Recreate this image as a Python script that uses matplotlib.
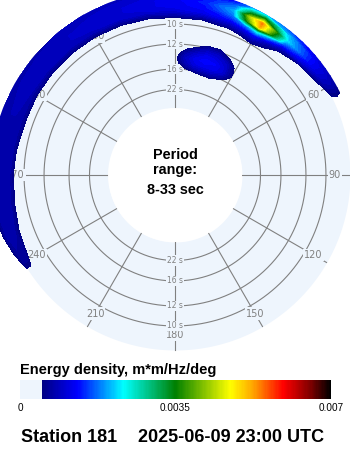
import numpy as np
import matplotlib
matplotlib.use('Agg')
import matplotlib.pyplot as plt
from matplotlib.colors import LinearSegmentedColormap, Normalize
import matplotlib.cm as cm

plt.rcParams['font.family'] = ['Liberation Sans', 'DejaVu Sans']

# --- DATA (energy density in units of 1e-4 m*m/Hz/deg) ---
# outer band (high frequency), directions in compass degrees (continued past 360)
band_dirs = [230, 240, 250, 260, 270, 280, 290, 300, 310, 320, 330, 340, 350,
             360, 370, 380, 385, 390, 400, 410, 420, 430]
band_freqs = [0.100, 0.104, 0.108, 0.112, 0.116, 0.120, 0.124, 0.128]
band_energy = [
    [0, 0, 0, 0, 0, 0, 0, 0, 0, 0, 0, 0, 0, 0, 0, 0, 2, 4, 0, 0, 0, 0],
    [0, 0, 0, 0, 1, 2, 2.5, 2, 2, 2, 2, 2, 2.5, 3, 3, 4.5, 6, 8, 2, 0, 0, 0],
    [0, 0, 1, 3, 4, 5, 6, 5.5, 5.5, 5.5, 5.5, 6, 6.5, 7.5, 8, 9, 11, 13, 4, 1, 0, 0],
    [0, 2, 4.5, 6.5, 7, 8, 8, 8, 8.5, 8.5, 9, 9.5, 10, 11, 12, 14, 18, 24, 9, 3, 0, 0],
    [0, 6, 7, 8, 8, 8, 8, 8.5, 9, 9, 9.5, 10, 11, 12, 13, 18, 36, 52, 16, 10, 3, 0],
    [0, 6, 8, 8, 8, 8, 8, 8.5, 9, 9, 9.5, 10, 11, 12, 14, 20, 42, 54, 22, 13, 7, 0],
    [0, 3, 7, 8, 8, 8, 8, 8, 8.5, 9, 9, 9.5, 10, 11, 13, 17, 30, 36, 20, 13, 8, 0],
    [0, 0, 3, 6, 7, 7, 7, 7, 7, 8, 8, 8.5, 9, 10, 11, 13, 18, 20, 15, 11, 7, 0],
]

# swell blob between 12 and 16 s
blob_dirs = [0, 5, 10, 15, 20, 25, 30, 35]
blob_freqs = [0.056, 0.060, 0.064, 0.068, 0.072, 0.076, 0.080, 0.084, 0.088]
blob_energy = [
    [0, 0, 0, 0, 0, 0, 0, 0],
    [0, 0, 3, 4.5, 5, 2, 0, 0],
    [0, 5, 8, 9, 9, 7, 3, 0],
    [3, 8, 11, 12, 12, 10, 4.5, 0],
    [3.5, 9, 12, 13, 12.5, 10, 4.5, 0],
    [2, 7.5, 10, 12, 11, 9, 3.5, 0],
    [0, 4, 7, 9.5, 9, 6, 0, 0],
    [0, 0, 3, 6, 6, 1.5, 0, 0],
    [0, 0, 0, 1, 1, 0, 0, 0],
]

ring_periods = [10, 12, 16, 22]
spoke_dirs = [0, 30, 60, 90, 120, 150, 180, 210, 240, 270, 300, 330]
spoke_labels = ['360', '30', '60', '90', '120', '150', '180', '210', '240', '270', '300', '330']
cbar_ticks = [0, 0.0035, 0.007]
cbar_ticklabels = ['0', '0.0035', '0.007']
period_range = 'Period\nrange:\n8-33 sec'
station = 'Station 181'
stamp = '2025-06-09 23:00 UTC'

# --- STYLE ---
disc_col = '#eef5fd'
grid_col = '#808080'
f_min, f_disc, f_max, f_origin = 0.03, 0.12, 0.128, -0.0258
px_per_f = 1200.0
vmax = 0.007
thresh = 0.00047

cmap = LinearSegmentedColormap.from_list('cdip', [
    (0.0, disc_col), (0.0677, disc_col), (0.0678, '#000080'), (0.184, '#0000ff'),
    (0.332, '#00ffff'), (0.5, '#008000'), (0.677, '#ffff00'), (0.75, '#ffa500'),
    (0.848, '#ff0000'), (0.935, '#800000'), (1.0, '#000000')], N=256)
norm = Normalize(0, vmax)

W, H = 350, 450
cx, cy = 175, 175
R = (f_max - f_origin) * px_per_f

fig = plt.figure(figsize=(W / 100, H / 100), dpi=100)
ax = fig.add_axes([(cx - R) / W, (H - cy - R) / H, 2 * R / W, 2 * R / H], projection='polar')
ax.set_theta_zero_location('N')
ax.set_theta_direction(-1)
ax.set_rorigin(f_origin)
ax.set_ylim(f_min, f_max)
ax.set_axis_off()

th = np.linspace(0, 2 * np.pi, 721)
ax.fill_between(th, f_min, f_disc, color=disc_col, lw=0, zorder=0)

# rings and spokes
for p in ring_periods:
    ax.plot(th, np.full_like(th, 1.0 / p), color=grid_col, lw=0.8, zorder=1)
for d in spoke_dirs:
    ax.plot([np.radians(d)] * 2, [f_min, f_disc], color=grid_col, lw=0.8, zorder=1)

lab_box = dict(boxstyle='square,pad=0.12', fc=disc_col, ec='none')
for d, lab in zip(spoke_dirs, spoke_labels):
    ax.text(np.radians(d), 0.1075, lab, ha='center', va='center', fontsize=7,
            family='DejaVu Sans', color=grid_col, bbox=lab_box, zorder=2)
for p in ring_periods:
    for d in (0, 180):
        ax.text(np.radians(d), 1.0 / p, f'{p} s', ha='center', va='center', fontsize=5.5,
                family='DejaVu Sans', color=grid_col, bbox=lab_box, zorder=2)

# spectrum
levels = np.linspace(thresh, vmax, 60)
for dirs, freqs, energy in ((band_dirs, band_freqs, band_energy),
                            (blob_dirs, blob_freqs, blob_energy)):
    T, F = np.meshgrid(np.radians(dirs), freqs)
    ax.contourf(T, F, np.array(energy) * 1e-4, levels=levels, cmap=cmap, norm=norm,
                antialiased=False, zorder=3)

# centre text
for txt, y in zip(period_range.split('\n'), (155, 170, 190)):
    fig.text(cx / W, 1 - y / H, txt, ha='center', va='center', fontsize=10.4,
             fontweight='bold')

# colour bar
fig.text(20 / W, 1 - 370 / H, 'Energy density, m*m/Hz/deg', ha='left', va='center',
         fontsize=10.5, fontweight='bold')
cax = fig.add_axes([20 / W, (H - 399) / H, 311 / W, 19 / H])
cb = fig.colorbar(cm.ScalarMappable(norm=norm, cmap=cmap), cax=cax, orientation='horizontal')
cb.outline.set_visible(False)
cb.set_ticks(cbar_ticks)
cb.set_ticklabels(cbar_ticklabels)
cax.tick_params(length=0, pad=3, labelsize=7.2)

fig.text(21 / W, 1 - 438 / H, station, ha='left', va='center', fontsize=13, fontweight='bold')
fig.text(138 / W, 1 - 438 / H, stamp, ha='left', va='center', fontsize=13, fontweight='bold')

fig.savefig('out.png', dpi=100)
